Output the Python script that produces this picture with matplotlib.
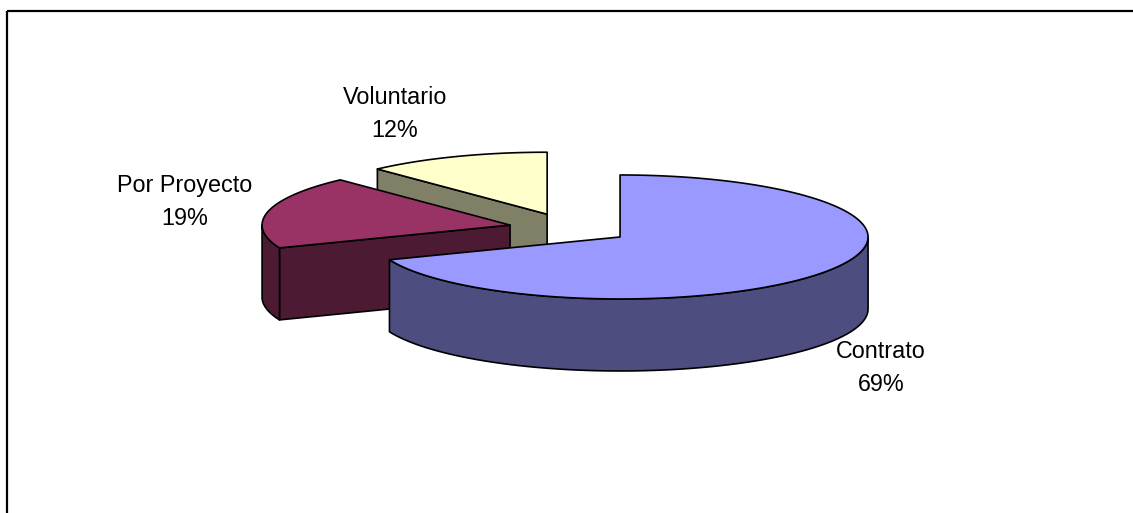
import numpy as np
import matplotlib
matplotlib.use('Agg')
import matplotlib.pyplot as plt
from matplotlib.patches import Polygon, Rectangle

# Tipo de vinculación
labels = ['Contrato', 'Por Proyecto', 'Voluntario']
values = [69, 19, 12]
top_colors = ['#9999FF', '#993366', '#FFFFCC']
side_colors = ['#4D4D80', '#4D1A33', '#808066']

# label anchor (x, baseline of the percentage line) in canvas pixels
label_pos = [(881, 391), (185, 225), (395, 137)]

W, H = 1133, 513
cx, cy = 569.6, 228.4      # pie centre before exploding
rx, ry = 248.0, 62.0       # projected radii
depth = 72.0               # thickness of the disc
explode = 61.0

plt.rcParams['font.family'] = ['Liberation Sans', 'DejaVu Sans']

fig = plt.figure(figsize=(W / 100, H / 100), dpi=100)
ax = fig.add_axes([0, 0, 1, 1])
ax.set_xlim(0, W)
ax.set_ylim(H, 0)
ax.axis('off')

# chart area border
ax.add_patch(Rectangle((7, 11), W + 20, H + 20, fill=False, edgecolor='black',
                       linewidth=1.6, zorder=0))


def pt(vx, vy, deg):
    t = np.radians(deg)
    return vx + rx * np.sin(t), vy - ry * np.cos(t)


def arc(vx, vy, a0, a1, n=200):
    t = np.radians(np.linspace(a0, a1, n))
    return np.column_stack([vx + rx * np.sin(t), vy - ry * np.cos(t)])


total = float(sum(values))
angles = np.concatenate([[0], np.cumsum(values) / total * 360.0])
slices = []
for i, v in enumerate(values):
    a0, a1 = angles[i], angles[i + 1]
    mid = np.radians((a0 + a1) / 2)
    vx = cx + explode * np.sin(mid)
    vy = cy - explode * (ry / rx) * np.cos(mid)
    slices.append((i, a0, a1, vx, vy))

# back to front: Voluntario, Por Proyecto, Contrato
order = [2, 1, 0]
z = 1
for i in order:
    _, a0, a1, vx, vy = slices[i]
    ec = dict(edgecolor='black', linewidth=1.2, joinstyle='round')

    # radial cut faces
    for a, normal in ((a0, a0 - 90), (a1, a1 + 90)):
        if np.cos(np.radians(normal)) < -1e-6:
            px, py = pt(vx, vy, a)
            quad = [(vx, vy), (px, py), (px, py + depth), (vx, vy + depth)]
            ax.add_patch(Polygon(quad, closed=True, facecolor=side_colors[i],
                                 zorder=z, **ec))
            z += 1

    # outer curved wall, front half only
    lo, hi = max(a0, 90), min(a1, 270)
    if hi > lo:
        top = arc(vx, vy, lo, hi)
        bot = top[::-1] + [0, depth]
        ax.add_patch(Polygon(np.vstack([top, bot]), closed=True,
                             facecolor=side_colors[i], zorder=z, **ec))
        z += 1

    # top face
    face = np.vstack([[vx, vy], arc(vx, vy, a0, a1)])
    ax.add_patch(Polygon(face, closed=True, facecolor=top_colors[i],
                         zorder=z, **ec))
    z += 1

for name, v, (tx, ty) in zip(labels, values, label_pos):
    ax.text(tx, ty, f'{name}\n{v}%', ha='center', va='baseline',
            fontsize=16.8, linespacing=1.53, color='black', zorder=20)

fig.savefig('out.png', dpi=100)
